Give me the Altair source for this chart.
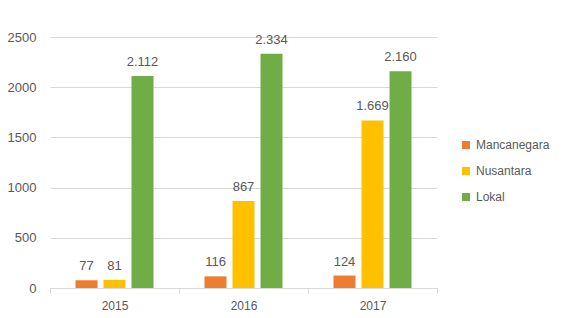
import altair as alt
import pandas as pd

years = ["2015", "2016", "2017"]
series = ["Mancanegara", "Nusantara", "Lokal"]
mancanegara = [77, 116, 124]
nusantara = [81, 867, 1669]
lokal = [2112, 2334, 2160]
colors = ["#ED7D31", "#FFC000", "#70AD47"]

rows = []
for s, vals in zip(series, [mancanegara, nusantara, lokal]):
    for y, v in zip(years, vals):
        rows.append({"Tahun": y, "Jenis": s, "Nilai": v,
                     "Label": f"{v:,}".replace(",", ".")})
df = pd.DataFrame(rows)

FONT = "Liberation Sans"

base = alt.Chart(df).encode(
    x=alt.X("Tahun:N", sort=years, title=None,
            scale=alt.Scale(paddingInner=0, paddingOuter=0),
            axis=alt.Axis(labelAngle=0, tickBand="extent", ticks=True, tickSize=5,
                          tickColor="#D9D9D9", domainColor="#D9D9D9",
                          labelColor="#595959", labelFont=FONT, labelFontSize=12,
                          labelPadding=7, grid=False)),
    xOffset=alt.XOffset("Jenis:N", sort=series,
                        scale=alt.Scale(paddingInner=0.214, paddingOuter=0.91)),
    y=alt.Y("Nilai:Q", title=None,
            scale=alt.Scale(domain=[0, 2500], nice=False),
            axis=alt.Axis(values=[0, 500, 1000, 1500, 2000, 2500], format="d",
                          domain=False, ticks=False, gridColor="#D9D9D9",
                          labelColor="#595959", labelFont=FONT, labelFontSize=13,
                          labelPadding=14)),
)

bars = base.mark_bar().encode(
    color=alt.Color("Jenis:N", sort=series,
                    scale=alt.Scale(domain=series, range=colors),
                    legend=alt.Legend(title=None, orient="none", legendX=410, legendY=102,
                                      symbolType="square", symbolSize=64,
                                      symbolStrokeWidth=0,
                                      labelFont=FONT, labelFontSize=12,
                                      labelColor="#595959", rowPadding=14,
                                      labelOffset=4)),
)

labels = base.mark_text(baseline="bottom", dy=-7, font=FONT, fontSize=13,
                        color="#595959").encode(
    text="Label:N",
)

chart = (bars + labels).properties(
    width=387, height=251,
    autosize=alt.AutoSizeParams(type="none"),
    padding={"left": 50, "top": 37, "right": 127, "bottom": 30},
).configure(background="white").configure_view(stroke=None)

chart.save("out.html", embed_options={"renderer": "svg", "actions": False})
